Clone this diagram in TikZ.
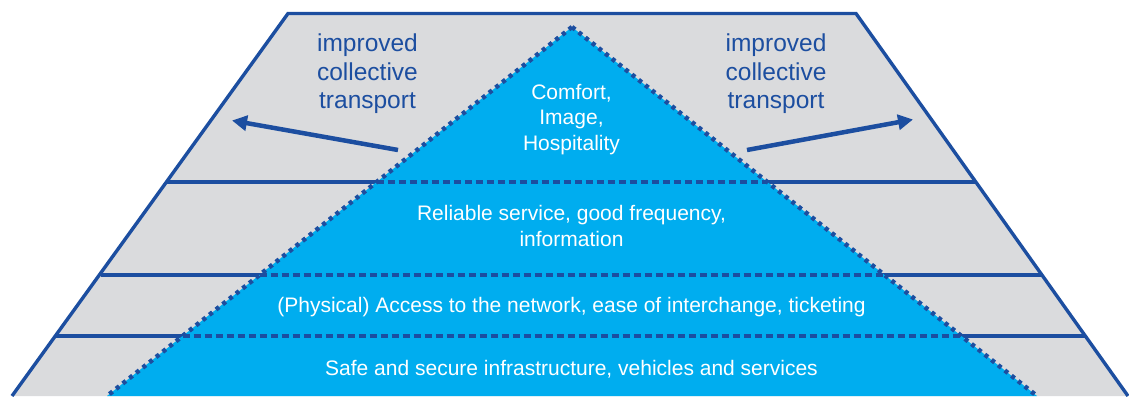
\documentclass[tikz,border=0pt]{standalone}
\usepackage{fontspec}
\setmainfont{Liberation Sans}
\usetikzlibrary{arrows.meta}

\definecolor{pyrGrey}{RGB}{218,219,221}
\definecolor{pyrCyan}{RGB}{0,173,239}
\definecolor{pyrBlue}{RGB}{28,78,160}

\tikzset{
  edgeline/.style={draw=pyrBlue,line width=3.4pt,line join=miter},
  dotline/.style={draw=pyrBlue,line width=4.5pt,dash pattern=on 4pt off 4.5pt},
  dashline/.style={draw=pyrBlue,line width=3.4pt,dash pattern=on 7pt off 4pt},
  outlabel/.style={anchor=base,inner sep=0pt,align=center,text=pyrBlue,
    font=\fontsize{24.5}{28.5}\selectfont},
  inlabel/.style={anchor=base,inner sep=0pt,align=center,text=white,
    font=\fontsize{21}{25.5}\selectfont},
  pusharrow/.style={draw=pyrBlue,line width=4.5pt,-{Triangle[length=15pt,width=15pt]}}
}

\begin{document}
\begin{tikzpicture}[x=1pt,y=1pt,yscale=-1]
\useasboundingbox (0,0) rectangle (1129,396);

%Shape: Trapezoid (background)
\fill[pyrGrey] (288,13.5) -- (856,13.5) -- (1128,396) -- (12,396) -- cycle;

%Straight Lines: level borders
\draw[edgeline] (166.4,182) -- (975.8,182);
\draw[edgeline] (100.5,275) -- (1042,275);
\draw[edgeline] (55.8,336) -- (1085.3,336);

%Shape: Triangle
\fill[pyrCyan] (572,27) -- (1037,396) -- (107,396) -- cycle;

%Dashed Lines inside the triangle
\draw[dashline] (376.7,182) -- (767.3,182);
\draw[dashline] (259.5,275) -- (884.5,275);
\draw[dashline] (182.6,336) -- (961.4,336);

%Dotted Lines: triangle sides
\draw[dotline] (572,27) -- (107,396);
\draw[dotline] (572,27) -- (1037,396);

%Trapezoid edges
\draw[edgeline] (12,396) -- (288,13.5) -- (856,13.5) -- (1128,396);

%Arrows
\coordinate (leftFrom) at (398,150);
\coordinate (leftTo) at (232,120.5);
\coordinate (rightFrom) at (747,150);
\coordinate (rightTo) at (913,119.5);
\draw[pusharrow] (leftFrom) -- (leftTo);
\draw[pusharrow] (rightFrom) -- (rightTo);

% Text Node (anchor = baseline of last line)
\node[outlabel] (leftLabel) at (367.5,108.5) {improved\\collective\\transport};
% Text Node
\node[outlabel] (rightLabel) at (776,108.5) {improved\\collective\\transport};
% Text Node
\node[inlabel] (topLevel) at (571.5,150) {Comfort,\\Image,\\Hospitality};
% Text Node
\node[inlabel] (secondLevel) at (571.5,246) {Reliable service, good frequency,\\information};
% Text Node
\node[inlabel] (thirdLevel) at (571.5,312) {(Physical) Access to the network, ease of interchange, ticketing};
% Text Node
\node[inlabel] (baseLevel) at (571.5,375) {Safe and secure infrastructure, vehicles and services};

\end{tikzpicture}
\end{document}
